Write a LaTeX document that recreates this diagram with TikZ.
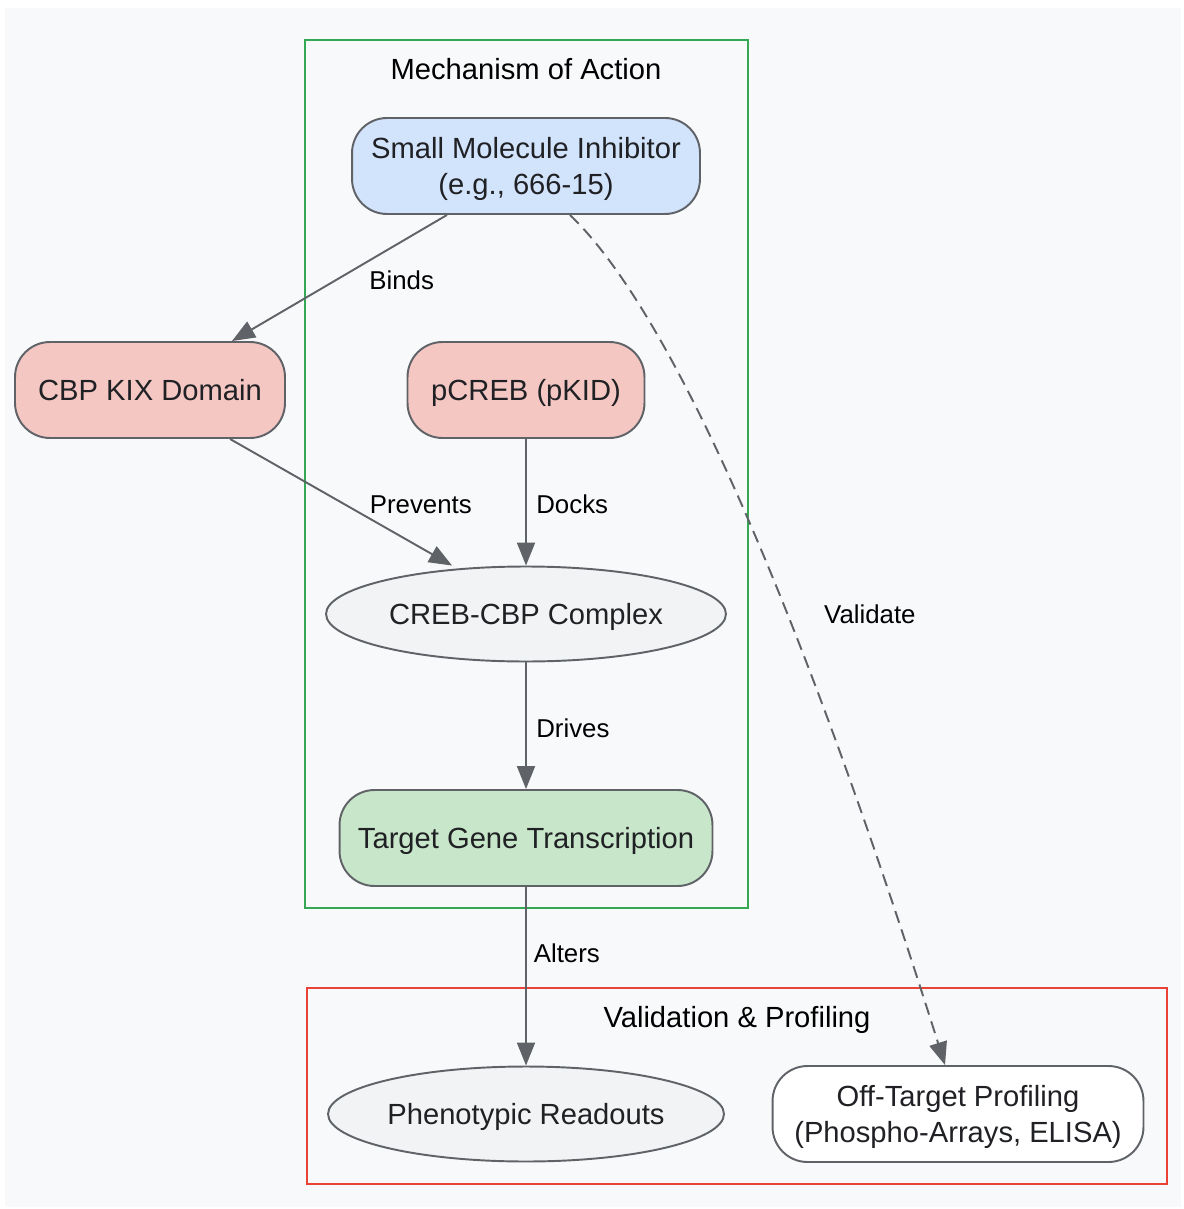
\documentclass[tikz,border=0pt]{standalone}
\usepackage{fontspec}
\setmainfont{Liberation Sans}
\usepackage{tikz}
\usetikzlibrary{calc,arrows.meta,shapes.geometric}

\definecolor{pagebg}{HTML}{F8F9FA}
\definecolor{linegray}{HTML}{5F6368}
\definecolor{txtdark}{HTML}{202124}
\definecolor{moagreen}{HTML}{34A853}
\definecolor{valred}{HTML}{EA4335}
\definecolor{fillblue}{HTML}{D2E3FC}
\definecolor{fillpink}{HTML}{F4C7C3}
\definecolor{fillgreen}{HTML}{C8E6C9}
\definecolor{fillgray}{HTML}{F1F3F4}

\newcommand{\nodefont}{\fontsize{16.6}{20.4}\selectfont}
\newcommand{\labelfont}{\fontsize{14.7}{17}\selectfont}

\tikzset{
    pill/.style={draw=linegray, line width=1.1pt, rounded corners=0.7cm,
        minimum height=1.92cm, align=center, text=txtdark, font=\nodefont,
        text depth=0pt},
    oval/.style={ellipse, draw=linegray, line width=1.1pt, fill=fillgray,
        minimum height=1.9cm, inner sep=0pt, text=txtdark, font=\nodefont,
        text depth=0pt},
    conn/.style={draw=linegray, line width=1.1pt,
        -{Triangle[length=0.46cm,width=0.36cm]}},
    connlabel/.style={font=\labelfont, text=black, anchor=west, yshift=-0.05cm},
    cluster/.style={line width=1.1pt},
    clustertitle/.style={font=\nodefont, text=black, text depth=0pt}
}

\begin{document}
\begin{tikzpicture}[x=0.02cm, y=-0.02cm]

    % Page and background
    \useasboundingbox (0,0) rectangle (1183,1209);
    \fill[pagebg] (5,8) rectangle (1181,1207);

    % Clusters
    \draw[cluster, moagreen] (305,40) rectangle (748,908);
    \node[clustertitle] (moatitle) at (526,69) {Mechanism of Action};
    \draw[cluster, valred] (307,988) rectangle (1167,1184);
    \node[clustertitle] (valtitle) at (737,1017) {Validation \& Profiling};

    % Nodes
    \node[pill, fill=fillblue, minimum width=6.96cm] (inhib) at (526,166)
        {Small Molecule Inhibitor\\(e.g., 666-15)};
    \node[pill, fill=fillpink, minimum width=5.4cm] (kix) at (150,390) {CBP KIX Domain};
    \node[pill, fill=fillpink, minimum width=4.74cm] (pcreb) at (526,390) {pCREB (pKID)};
    \node[oval, minimum width=8cm] (cplx) at (526,614) {CREB-CBP Complex};
    \node[pill, fill=fillgreen, minimum width=7.46cm] (target) at (526,838)
        {Target Gene Transcription};
    \node[oval, minimum width=7.92cm] (pheno) at (526,1114) {Phenotypic Readouts};
    \node[pill, fill=white, minimum width=7.42cm] (offtgt) at (958,1114)
        {Off-Target Profiling\\(Phospho-Arrays, ELISA)};

    % Connectors
    \draw[conn] ([xshift=-1.58cm]inhib.south) -- ([xshift=1.64cm]kix.north)
        node[connlabel, midway, xshift=0.46cm] {Binds};
    \draw[conn] ([xshift=1.6cm]kix.south) -- ([xshift=-1.48cm]cplx.north)
        node[connlabel, midway, xshift=0.44cm] {Prevents};
    \draw[conn] (pcreb) -- (cplx)
        node[connlabel, midway, xshift=0.07cm] {Docks};
    \draw[conn] (cplx) -- (target)
        node[connlabel, midway, xshift=0.07cm] {Drives};
    \draw[conn] (target) -- (pheno)
        node[connlabel, pos=0.36, xshift=0.02cm] {Alters};
    \draw[conn, dashed, dash pattern=on 7pt off 4pt]
        ([xshift=0.88cm]inhib.south) .. controls (690,330) and (830,700) ..
        ([xshift=-0.26cm]offtgt.north)
        node[connlabel, pos=0.57, xshift=0.62cm] {Validate};

\end{tikzpicture}
\end{document}
